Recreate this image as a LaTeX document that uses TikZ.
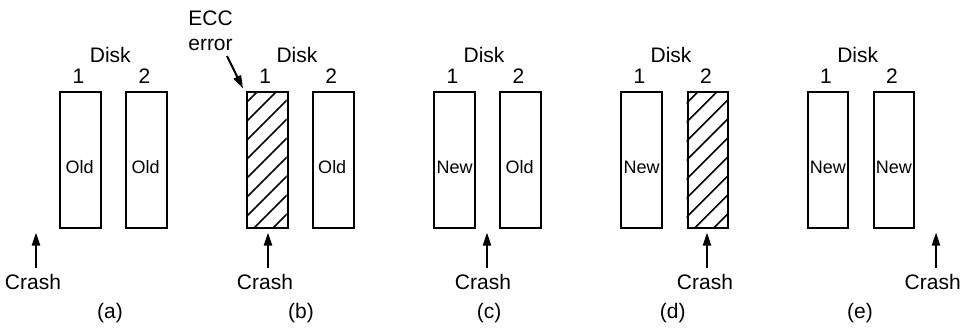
\documentclass[tikz,border=0pt]{standalone}
\usepackage{fontspec}
\setmainfont{Liberation Sans}
\usetikzlibrary{arrows.meta}
\begin{document}
\begin{tikzpicture}[x=1pt,y=-1pt,
  diskbox/.style={draw, line width=2pt, minimum width=40.5pt, minimum height=135.5pt, inner sep=0pt, anchor=north west},
  lbl/.style={font=\fontsize{21}{25}\selectfont, inner sep=0pt, anchor=base},
  content/.style={font=\fontsize{18}{22}\selectfont, inner sep=0pt, anchor=base},
  crasharrow/.style={-{Triangle[length=13pt,width=8pt]}, line width=2pt},
  hatchline/.style={line width=1.7pt},
  ]
\useasboundingbox (0,0) rectangle (967,327);

% ---------- boxes ----------
\foreach \n/\L in {a1/58.3,a2/124.3,b1/245,b2/311,c1/432.3,c2/498.3,d1/619.3,d2/685.7,e1/805.7,e2/871.7}{
  \node[diskbox] (\n) at (\L+1,91) {};
}

% ---------- hatching (b1, d2) ----------
\foreach \L in {245,685.7}{
  \begin{scope}[shift={(\L+1,91)}]
    \clip (0,0) rectangle (40.5,135.5);
    \foreach \c in {12,31,...,190}{
      \draw[hatchline] (\c-140,140) -- (\c,0);
    }
  \end{scope}
}
\foreach \L in {245,685.7}{
  \node[diskbox] at (\L+1,91) {};
}

% ---------- Disk labels ----------
\foreach \n/\x in {a/110.3,b/297,c/484,d/671,e/857.7}{
  \node[lbl] (disk\n) at (\x,62.7) {Disk};
}
\foreach \n in {a,b,c,d,e}{
  \node[lbl] (one\n) at ([xshift=-2pt]\n1.center |- 0,83.3) {1};
  \node[lbl] (two\n) at ([xshift=-2pt]\n2.center |- 0,83.3) {2};
}

% ---------- contents ----------
\node[content] (ta1) at ([xshift=-1pt]a1.center |- 0,173.3) {Old};
\node[content] (ta2) at ([xshift=-1pt]a2.center |- 0,173.3) {Old};
\node[content] (tb2) at ([xshift=-1pt]b2.center |- 0,173.3) {Old};
\node[content] (tc1) at ([xshift=0pt]c1.center |- 0,173.3) {New};
\node[content] (tc2) at ([xshift=-1pt]c2.center |- 0,173.3) {Old};
\node[content] (td1) at ([xshift=0pt]d1.center |- 0,173.3) {New};
\node[content] (te1) at ([xshift=0pt]e1.center |- 0,173.3) {New};
\node[content] (te2) at ([xshift=0pt]e2.center |- 0,173.3) {New};

% ---------- ECC error ----------
\node[lbl, align=center, anchor=base] (ecc) at (210.5,50) {ECC\\error};
\coordinate (ecctail) at (227,56);
\coordinate (ecctip) at (243,88.5);
\draw[crasharrow] (ecctail) -- (ecctip);

% ---------- Crash arrows ----------
\foreach \n/\ax/\cx/\px in {a/36/33/110,b/268/265/301,c/487/483/489,d/707/705/672.7,e/936/932.7/860}{
  \node[lbl] (crash\n) at (\cx,289.3) {Crash};
  \coordinate (tail\n) at (\ax,268);
  \coordinate (tip\n) at (\ax,232.5);
  \draw[crasharrow] (tail\n) -- (tip\n);
  \node[lbl, anchor=center] (cap\n) at (\px,313) {(\n)};
}
\end{tikzpicture}
\end{document}
